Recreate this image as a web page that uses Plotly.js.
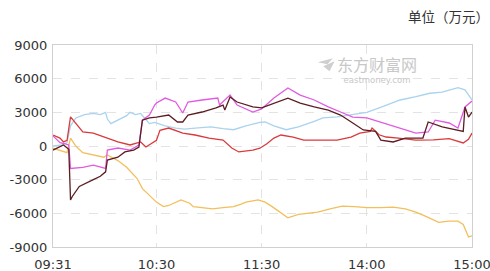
<!DOCTYPE html>
<html>
<head>
<meta charset="utf-8">
<script src="https://cdn.plot.ly/plotly-3.0.1.min.js"></script>
<style>html,body{margin:0;padding:0;background:#fff;}#chart{width:490px;height:271px;}</style>
</head>
<body>
<div id="chart"></div>
<script>
// Tick labels (minute index since 09:31 in the trading day)
const tickPos = [0, 59, 119, 179, 239];
const tickLabels = ['09:31', '10:30', '11:30', '14:00', '15:00'];
const yTicks = [-9000, -6000, -3000, 0, 3000, 6000, 9000];

// Light blue series
const blueT = [0,5,8,10,13,18,23,27,30,31,33,37,42,44,47,50,53,55,58,64,70,75,81,90,97,103,110,118,121,126,133,140,149,154,162,167,175,179,188,198,207,215,222,231,235,238,239];
const blueV = [0,100,300,1800,2500,2800,2900,2800,3000,2400,2000,2300,2700,3000,2800,2900,2400,2000,2100,1800,1600,1500,1600,1700,1550,1450,1800,2100,2140,1800,1450,1700,2200,2500,2600,2700,2900,3000,3500,4100,4400,4700,4800,5200,5000,4300,4100];

// Yellow series
const yellowT = [0,4,8,10,13,17,23,29,31,37,42,48,51,55,59,63,66,73,78,80,86,91,97,103,107,110,117,121,125,130,134,140,146,151,158,165,172,179,187,194,201,207,213,220,226,231,234,237,239];
const yellowV = [-200,-400,-600,700,0,-600,-800,-1000,-800,-1300,-1900,-2900,-3800,-4400,-5000,-5400,-5300,-4800,-5100,-5400,-5500,-5600,-5500,-5400,-5200,-5000,-4800,-5000,-5400,-6000,-6400,-6100,-6000,-5900,-5600,-5350,-5400,-5500,-5500,-5450,-5600,-5900,-6300,-6800,-6700,-6700,-7000,-8100,-8000];

// Red series
const redT = [0,4,6,8,10,13,17,23,29,37,44,50,53,57,59,61,66,74,81,89,97,102,106,114,118,122,126,130,137,143,153,162,170,175,181,182,186,190,197,207,217,226,234,237,239];
const redV = [980,700,360,500,2600,2050,1250,1150,800,360,90,360,-90,270,500,1400,1600,1150,980,710,530,-180,-530,-360,-200,200,710,980,800,530,530,530,800,1150,1300,1600,1000,800,710,530,550,650,270,600,1150];

// Magenta series
const magT = [0,4,7,9,10,17,23,28,30,31,37,44,49,51,55,58,59,64,70,74,77,85,94,95,101,105,114,119,126,134,141,149,157,164,171,179,188,197,207,214,218,226,231,235,238,239];
const magV = [900,300,200,100,-2000,-1900,-1700,-1900,-2000,-360,-180,-360,90,2300,2760,3650,3830,4270,3920,2940,3920,4100,4270,3650,4540,3650,3030,3300,4270,5170,4540,4100,3480,3030,2580,2500,2050,1600,1150,1250,2300,2050,1600,3480,3920,4000];

// Dark brown series
const brownT = [0,4,6,9,10,11,15,23,27,30,31,37,41,46,49,51,55,59,66,71,74,77,85,93,97,98,101,105,114,119,126,134,141,149,157,164,171,177,184,187,194,201,211,214,222,230,234,235,237,239];
const brownV = [-360,-100,90,-300,-4800,-4500,-3600,-3000,-2700,-2300,-1250,-1000,-530,-360,-90,2300,2500,2580,2760,2140,2140,2760,3030,3390,3650,3200,4360,3920,3480,3390,3830,4270,3830,3480,3200,2760,2050,1430,1300,530,360,710,710,2140,1700,1430,1300,3480,2580,3030];

const series = [
  {name: '黄', t: yellowT, v: yellowV, color: '#f2bf5c'},
  {name: '蓝', t: blueT, v: blueV, color: '#a9d3ef'},
  {name: '红', t: redT, v: redV, color: '#d93a3c'},
  {name: '紫', t: magT, v: magV, color: '#e25ae0'},
  {name: '棕', t: brownT, v: brownV, color: '#5b1d22'}
];

const traces = series.map(s => ({
  type: 'scatter', mode: 'lines', x: s.t, y: s.v, name: s.name,
  line: {color: s.color, width: 1.3}, hoverinfo: 'skip'
}));

const gridAx = {
  showgrid: true, gridcolor: '#e3e3e3', griddash: 'dash', gridwidth: 1,
  zeroline: false, showline: true, linecolor: '#d0d0d0', linewidth: 1, mirror: true,
  ticks: '', ticklabeloverflow: 'allow',
  tickfont: {family: 'DejaVu Sans, Verdana, sans-serif', size: 13, color: '#333'}
};

const layout = {
  width: 490, height: 271,
  margin: {l: 53, r: 18, t: 45, b: 24},
  paper_bgcolor: '#ffffff', plot_bgcolor: '#ffffff',
  showlegend: false,
  title: {
    text: '单位（万元）', xref: 'container', yref: 'container',
    x: 0.998, xanchor: 'right', y: 0.935, yanchor: 'middle',
    font: {family: 'Noto Sans CJK SC, sans-serif', size: 13.5, color: '#333'}
  },
  xaxis: Object.assign({}, gridAx, {
    range: [0, 239], tickmode: 'array', tickvals: tickPos, ticktext: tickLabels,
    ticklabelstandoff: 5
  }),
  yaxis: Object.assign({}, gridAx, {
    range: [-9000, 9000], tickmode: 'array', tickvals: yTicks,
    ticktext: yTicks.map(String), ticklabelstandoff: 2
  }),
  shapes: [
    {type: 'path', xref: 'paper', yref: 'paper', layer: 'below',
     path: 'M 0.632 0.915 L 0.668 0.935 L 0.655 0.905 Z M 0.645 0.895 L 0.672 0.92 L 0.66 0.87 Z',
     fillcolor: '#cfcfcf', line: {width: 0}}
  ],
  annotations: [
    {xref: 'paper', yref: 'paper', x: 0.773, y: 0.885, xanchor: 'center', yanchor: 'middle',
     text: '<span style="font-size:16px;font-family:Noto Sans CJK SC">东方财富网</span><br><span style="font-size:8.5px">eastmoney.com</span>',
     showarrow: false,
     font: {family: 'DejaVu Sans, sans-serif', size: 9.5, color: '#c8c8c8'}}
  ]
};

Plotly.newPlot('chart', traces, layout, {staticPlot: true, displayModeBar: false});
</script>
</body>
</html>
